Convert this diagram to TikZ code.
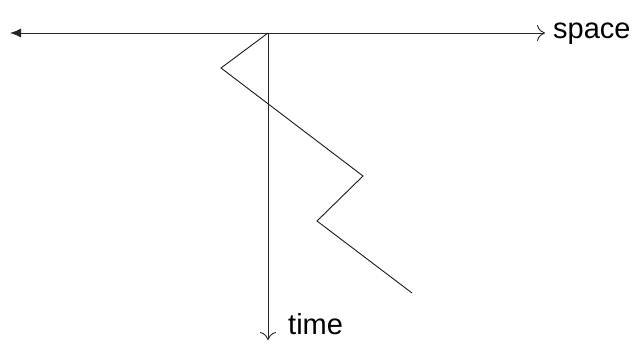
\documentclass[tikz,border=0pt]{standalone}
\usepackage{fontspec}
\setmainfont{Liberation Sans}
\usetikzlibrary{arrows.meta}
\tikzset{openv/.tip={To[length=8pt,width=16pt,line width=0.9pt]}}
\begin{document}
\begin{tikzpicture}[x=1pt,y=-1pt,
  axis/.style={draw=black!85, line width=0.9pt},
  path/.style={draw=black!90, line width=0.9pt, line join=miter},
  lbl/.style={font=\fontsize{29}{31}\selectfont, inner sep=0pt, anchor=base west}]
\useasboundingbox (0,0) rectangle (635,343);
\coordinate (L) at (10,33);
\coordinate (R) at (545,33);
\coordinate (O) at (268,33);
\coordinate (B) at (268,340);
\coordinate (p1) at (221,68);
\coordinate (p2) at (363,176);
\coordinate (p3) at (317,221);
\coordinate (p4) at (412,293);
\draw[axis, {Latex[length=11pt,width=9pt]}-{openv}] (L) -- (R);
\draw[axis, -{openv}] (O) -- (B);
\draw[path] (O) -- (p1) -- (p2) -- (p3) -- (p4);
\node[lbl] (space) at (553,38) {space};
\node[lbl] (time) at (288,334) {time};
\end{tikzpicture}
\end{document}
